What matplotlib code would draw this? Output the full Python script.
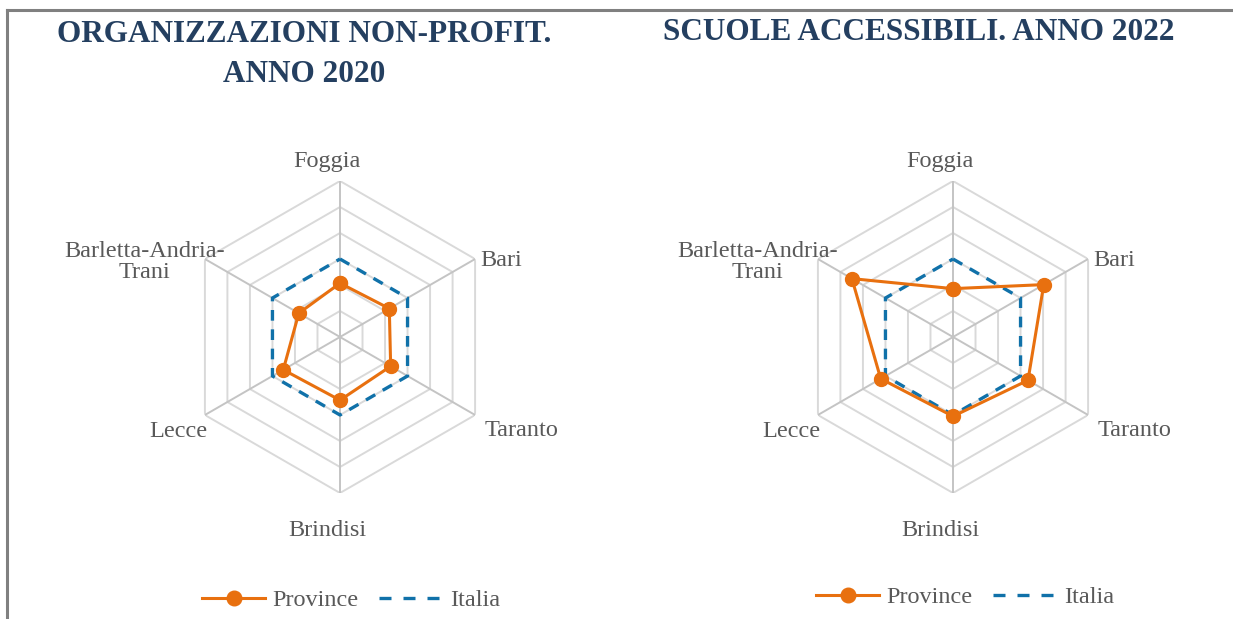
import numpy as np
import matplotlib
matplotlib.use("Agg")
import matplotlib.pyplot as plt
from matplotlib.lines import Line2D

categories = ["Foggia", "Bari", "Taranto", "Brindisi", "Lecce", "Barletta-Andria-\nTrani"]
titles = ["ORGANIZZAZIONI NON-PROFIT.\nANNO 2020", "SCUOLE ACCESSIBILI. ANNO 2022"]
province_np = [2.07, 2.19, 2.25, 2.43, 2.52, 1.83]
italia_np = [3.0, 3.0, 3.0, 3.0, 3.0, 3.0]
province_sc = [1.86, 4.03, 3.33, 3.05, 3.21, 4.49]
italia_sc = [3.0, 3.0, 3.0, 3.0, 3.0, 3.0]
ring_levels = [1, 2, 3, 4, 5, 6]
rmax = 6

ORANGE = "#E8700F"
BLUE = "#1071A9"
TITLE_C = "#243F60"
TEXT_C = "#595959"
SERIF = "Liberation Serif"
LFS = 17.5

W, H = 1233, 619
fig = plt.figure(figsize=(W / 100, H / 100), dpi=100)

# frame lines
fig.add_artist(Line2D([7 / W, 1.0], [1 - 9.5 / H, 1 - 9.5 / H], color="#808080", lw=2.2))
fig.add_artist(Line2D([7 / W, 7 / W], [0, 1 - 9.5 / H], color="#808080", lw=2.2))

n = len(categories)
theta = np.arange(n) * 2 * np.pi / n
theta_c = np.append(theta, theta[0])

label_offsets = [(-13, 19), (26, -1), (46, -16), (-13, -37), (-27, -16), (-60, -3)]

centers = [(340, 337), (953, 337)]
R = 156
datasets = [(province_np, italia_np), (province_sc, italia_sc)]
title_pos = [(304, 54), (919, 33)]
legend_x = [351, 965]
legend_y = [600, 597]

for k in range(2):
    cx, cy = centers[k]
    ax = fig.add_axes([(cx - R) / W, (H - cy - R) / H, 2 * R / W, 2 * R / H], projection="polar")
    ax.set_theta_zero_location("N")
    ax.set_theta_direction(-1)
    ax.set_ylim(0, rmax)
    ax.grid(False)
    ax.set_xticks([])
    ax.set_yticks([])
    ax.spines["polar"].set_visible(False)
    ax.patch.set_alpha(0)

    for lv in ring_levels:
        ax.plot(theta_c, [lv] * (n + 1), color="#D9D9D9", lw=1.4, zorder=1)
    for t in theta:
        ax.plot([t, t], [0, rmax], color="#C4C4C4", lw=1.4, zorder=1)

    prov, ita = datasets[k]
    ax.plot(theta_c, list(ita) + [ita[0]], color=BLUE, lw=2.4, ls=(0, (3.2, 2.6)), zorder=3)
    ax.plot(theta_c, list(prov) + [prov[0]], color=ORANGE, lw=2.2, marker="o",
            markersize=10, zorder=4)

    for i, cat in enumerate(categories):
        dx, dy = label_offsets[i]
        ax.annotate(cat, xy=(theta[i], rmax), xytext=(dx, dy), textcoords="offset pixels",
                    ha="center", va="center", fontsize=LFS, color=TEXT_C, family=SERIF,
                    linespacing=1.0, annotation_clip=False)

    tx, ty = title_pos[k]
    fig.text(tx / W, 1 - ty / H, titles[k], ha="center", va="center", fontsize=22.5,
             fontweight="bold", color=TITLE_C, family=SERIF, linespacing=1.5)

    handles = [Line2D([], [], color=ORANGE, lw=2.2, marker="o", markersize=10.5),
               Line2D([], [], color=BLUE, lw=2.4, ls=(0, (3.6, 3.6)))]
    leg = fig.legend(handles, ["Province", "Italia"], loc="center",
                     bbox_to_anchor=(legend_x[k] / W, 1 - legend_y[k] / H), ncol=2,
                     frameon=False, handlelength=2.6, handletextpad=0.3, columnspacing=0.85,
                     prop={"family": SERIF, "size": LFS})
    for t in leg.get_texts():
        t.set_color(TEXT_C)

fig.savefig("out.png", dpi=100)
